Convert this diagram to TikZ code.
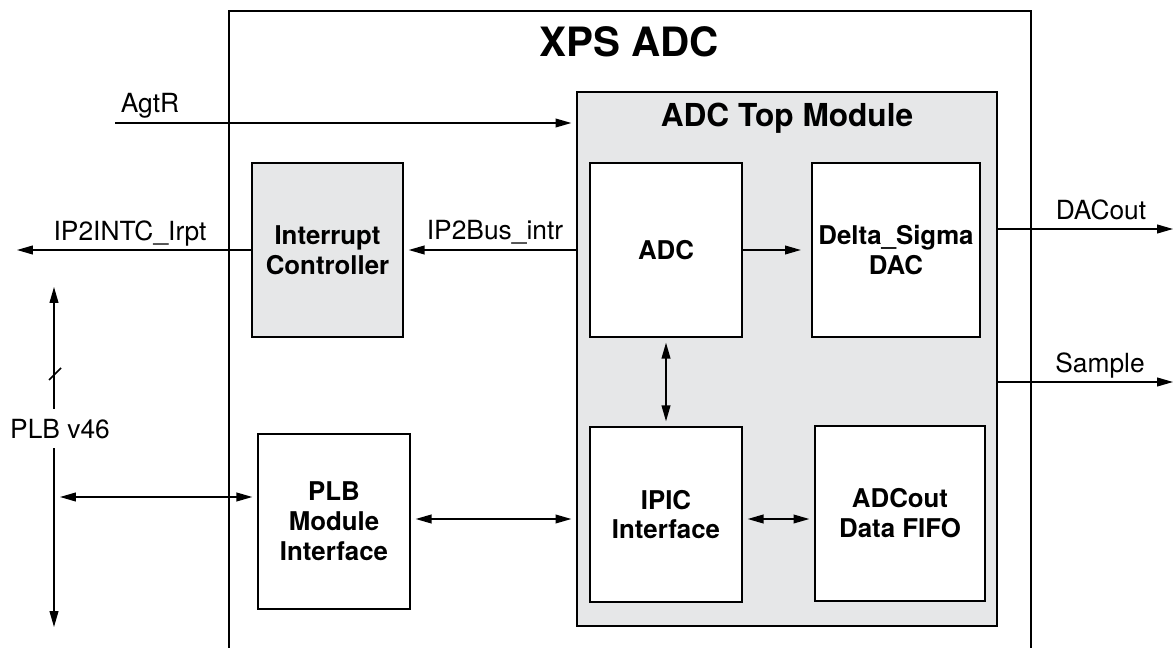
\documentclass[tikz,border=0pt]{standalone}
\usepackage{fontspec}
\setmainfont{TeX Gyre Heros}
\usetikzlibrary{arrows.meta}
\usetikzlibrary{positioning}
\definecolor{adcgray}{HTML}{E6E7E8}

\begin{document}
\begin{tikzpicture}[x=0.02cm,y=-0.02cm,
  blk/.style={draw,line width=1.5pt,fill=white,align=center,inner sep=0pt,font=\fontsize{14.7}{17}\selectfont\bfseries},
  lbl/.style={anchor=base,inner sep=0pt,font=\fontsize{15}{18}\selectfont},
  sig/.style={line width=0.75pt,-{Triangle[length=9pt,width=5pt]},shorten >=2.5pt},
  both/.style={line width=0.75pt,{Triangle[length=9pt,width=5pt]}-{Triangle[length=9pt,width=5pt]},shorten >=2.5pt,shorten <=2.5pt}]
\useasboundingbox (0,0) rectangle (1176,648);

\draw [line width=1.5pt] (229,660) -- (229,11) -- (1031,11) -- (1031,660);
\node [lbl,font=\fontsize{23}{27}\selectfont\bfseries] (xps) at (629,57) {XPS ADC};

\node [blk,fill=adcgray,minimum width=8.4cm,minimum height=10.68cm] (top) at (787,359) {};
\node [lbl,font=\fontsize{18}{21}\selectfont\bfseries] (toptitle) at (787,127) {ADC Top Module};

\node [blk,minimum width=3.04cm,minimum height=3.48cm] (adc) at (666,250) {ADC};
\node [blk,minimum width=3.36cm,minimum height=3.48cm] (dsd) at (896,250) {Delta\_Sigma\\DAC};
\node [blk,minimum width=3.04cm,minimum height=3.5cm] (ipic) at (666,514.5) {IPIC\\Interface};
\node [blk,minimum width=3.4cm,minimum height=3.5cm] (fifo) at (900,513.5) {ADCout\\Data FIFO};
\node [blk,fill=adcgray,minimum width=3.02cm,minimum height=3.48cm] (intc) at (327.5,250) {Interrupt\\Controller};
\node [blk,minimum width=3.04cm,minimum height=3.5cm] (plb) at (334,521.5) {PLB\\Module\\Interface};

\coordinate (agt) at (115,123);
\coordinate (irq) at (12.6,250);
\coordinate (bustop) at (54,287);
\coordinate (busbot) at (54,627);
\coordinate (busplb) at (54,497);
\coordinate (row) at (0,519);
\coordinate (dacout) at (1177.4,229);
\coordinate (smp) at (1177.4,382);

\draw [sig] (agt) -- (top.west |- agt);
\draw [sig] (top.west |- intc.east) -- (intc.east);
\draw [sig] (intc.west) -- (irq);
\draw [sig,shorten >=5.6pt] (adc.east) -- (dsd.west);
\draw [both] (adc.south) -- (ipic.north);
\draw [both] (ipic.east |- row) -- (fifo.west |- row);
\draw [both] (plb.east |- row) -- (top.west |- row);
\draw [both,shorten <=3.4pt] (busplb) -- (plb.west |- busplb);
\draw [sig] (top.east |- dacout) -- (dacout);
\draw [sig] (top.east |- smp) -- (smp);

\draw [both,shorten >=0pt,shorten <=0pt] (bustop) -- (busbot);
\draw [line width=0.9pt] (49,380) -- (61,368);

\node [lbl] (agtr) at (150,113) {AgtR};
\node [lbl] (irqlbl) at (130,241) {IP2INTC\_Irpt};
\node [lbl] (intrlbl) at (495,240) {IP2Bus\_intr};
\node [lbl,fill=white,inner xsep=1pt,inner ysep=5.5pt] (buslbl) at (60,438) {PLB v46};
\node [lbl] (daclbl) at (1101,220) {DACout};
\node [lbl] (smplbl) at (1100,373) {Sample};
\end{tikzpicture}
\end{document}
